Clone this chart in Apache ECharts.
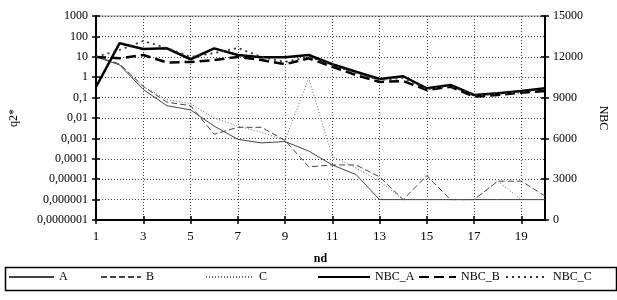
<!DOCTYPE html>
<html>
<head>
<meta charset="utf-8">
<script src="https://cdn.jsdelivr.net/npm/echarts@6/dist/echarts.min.js"></script>
<style>html,body{margin:0;padding:0;background:#fff}#c{width:617px;height:300px}</style>
</head>
<body>
<div id="c"></div>
<script>
const categories = ['1','2','3','4','5','6','7','8','9','10','11','12','13','14','15','16','17','18','19','20'];
const seriesA = [10, 4, 0.25, 0.04, 0.025, 0.004, 0.0009, 0.0006, 0.0007, 0.00024, 5e-5, 1.7e-5, 1e-6, 1e-6, 1e-6, 1e-6, 1e-6, 1e-6, 1e-6, 1e-6];
const seriesB = [10, 4.5, 0.35, 0.06, 0.04, 0.0016, 0.0035, 0.0035, 0.0008, 4e-5, 5e-5, 5e-5, 1.3e-5, 1e-6, 1.5e-5, 1e-6, 1e-6, 8e-6, 8e-6, 1.5e-6];
const seriesC = [10, 4, 0.35, 0.08, 0.05, 0.01, 0.004, 0.002, 0.0008, 0.9, 1.3e-4, 3.6e-5, 8e-6, 1e-6, 1e-6, 1e-6, 1e-6, 8e-6, 1e-6, 1e-6];
const nbcA = [9780, 13000, 12570, 12620, 11820, 12620, 12130, 11960, 11960, 12130, 11450, 10900, 10370, 10570, 9680, 9930, 9190, 9320, 9490, 9680];
const nbcB = [11990, 11890, 12130, 11580, 11620, 11760, 11990, 11760, 11450, 11890, 11270, 10660, 10150, 10220, 9560, 9800, 9070, 9190, 9360, 9490];
const nbcC = [11990, 12500, 13160, 12650, 11990, 12280, 12650, 11990, 11620, 11990, 11400, 10810, 10290, 10440, 9630, 9850, 9190, 9260, 9410, 9630];
const leftTickLabels = ['0,0000001','0,000001','0,00001','0,0001','0,001','0,01','0,1','1','10','100','1000'];
const rightTickLabels = ['0','3000','6000','9000','12000','15000'];

const FONT = 'Liberation Serif';
const chart = echarts.init(document.getElementById('c'), null, {renderer: 'canvas'});

function leftLabel(v) {
  const e = Math.round(Math.log10(v));
  return leftTickLabels[e + 7] !== undefined ? leftTickLabels[e + 7] : '';
}
function rightLabel(v) {
  const i = Math.round(v / 3000);
  return rightTickLabels[i] !== undefined ? rightTickLabels[i] : '';
}

function legendItem(name, left, w) {
  return {
    data: [name], left: left, top: 271, itemWidth: w, itemHeight: 10, padding: 0,
    itemGap: 0, selectedMode: false,
    itemStyle: {opacity: 0},
    textStyle: {fontFamily: FONT, fontSize: 12, color: '#000'}
  };
}

const thin = (type, color) => ({width: 1, type: type, color: color});
const option = {
  animation: false,
  backgroundColor: '#fff',
  textStyle: {fontFamily: FONT, color: '#000'},
  grid: {left: 95, right: 64, top: 16, bottom: 80, show: true, borderColor: '#888', borderWidth: 1},
  legend: [
    legendItem('A', 8, 45),
    legendItem('B', 100, 40),
    legendItem('C', 205, 48),
    legendItem('NBC_A', 317, 52),
    legendItem('NBC_B', 418, 37),
    legendItem('NBC_C', 505, 42)
  ],
  graphic: [{
    type: 'rect', left: 3, top: 265, silent: true,
    shape: {width: 611, height: 23},
    style: {fill: 'none', stroke: '#000', lineWidth: 1.5}
  }],
  xAxis: [{
    type: 'category', data: categories, boundaryGap: false,
    name: 'nd', nameLocation: 'middle', nameGap: 33,
    nameTextStyle: {fontFamily: FONT, fontSize: 12, fontWeight: 'bold', color: '#000'},
    axisLine: {lineStyle: {color: '#000', width: 2}},
    axisTick: {interval: 1, length: 4, lineStyle: {color: '#000', width: 1.5}},
    axisLabel: {interval: 1, margin: 10, fontFamily: FONT, fontSize: 13, color: '#000'},
    splitLine: {show: true, interval: 1, lineStyle: {color: '#444', type: [1, 2], width: 1}}
  }, {
    type: 'category', data: categories, boundaryGap: false, position: 'bottom',
    axisLine: {show: false},
    axisTick: {interval: 1, inside: true, length: 4, lineStyle: {color: '#000', width: 1.5}},
    axisLabel: {show: false}, splitLine: {show: false}
  }],
  yAxis: [{
    type: 'log', logBase: 10, min: 1e-7, max: 1000, interval: 1, position: 'left',
    name: 'q2*', nameLocation: 'middle', nameGap: 76,
    nameTextStyle: {fontFamily: FONT, fontSize: 12, color: '#000'},
    axisLine: {show: true, lineStyle: {color: '#000', width: 2}},
    axisTick: {show: true, length: 4, lineStyle: {color: '#000', width: 1.5}},
    axisLabel: {formatter: leftLabel, margin: 8, fontFamily: FONT, fontSize: 12, color: '#000'},
    splitLine: {show: true, lineStyle: {color: '#444', type: [1, 2], width: 1}}
  }, {
    type: 'value', min: 0, max: 15000, interval: 3000, position: 'right',
    name: 'NBC', nameLocation: 'middle', nameGap: 52, nameRotate: -90,
    nameTextStyle: {fontFamily: FONT, fontSize: 12, color: '#000'},
    axisLine: {show: true, lineStyle: {color: '#000', width: 2}},
    axisTick: {show: true, length: 4, lineStyle: {color: '#000', width: 1.5}},
    axisLabel: {formatter: rightLabel, margin: 8, fontFamily: FONT, fontSize: 12, color: '#000'},
    splitLine: {show: false}
  }, {
    type: 'log', logBase: 10, min: 1e-7, max: 1000, interval: 1, position: 'left',
    axisLine: {show: false},
    axisTick: {show: true, inside: true, length: 4, lineStyle: {color: '#000', width: 1.5}},
    axisLabel: {show: false}, splitLine: {show: false}
  }, {
    type: 'value', min: 0, max: 15000, interval: 3000, position: 'right',
    axisLine: {show: false},
    axisTick: {show: true, inside: true, length: 4, lineStyle: {color: '#000', width: 1.5}},
    axisLabel: {show: false}, splitLine: {show: false}
  }],
  series: [
    {name: 'A', type: 'line', yAxisIndex: 0, data: seriesA, symbol: 'none', color: '#444', lineStyle: thin('solid', '#444')},
    {name: 'B', type: 'line', yAxisIndex: 0, data: seriesB, symbol: 'none', color: '#444', lineStyle: thin([6, 3], '#444')},
    {name: 'C', type: 'line', yAxisIndex: 0, data: seriesC, symbol: 'none', color: '#666', lineStyle: thin([1, 2], '#666')},
    {name: 'NBC_A', type: 'line', yAxisIndex: 1, data: nbcA, symbol: 'none', color: '#000', lineStyle: {width: 2.5, color: '#000'}},
    {name: 'NBC_B', type: 'line', yAxisIndex: 1, data: nbcB, symbol: 'none', color: '#000', lineStyle: {width: 2.5, color: '#000', type: [10, 5]}},
    {name: 'NBC_C', type: 'line', yAxisIndex: 1, data: nbcC, symbol: 'none', color: '#333', lineStyle: {width: 1.8, color: '#333', type: [2, 4]}}
  ]
};
chart.setOption(option);
</script>
</body>
</html>
